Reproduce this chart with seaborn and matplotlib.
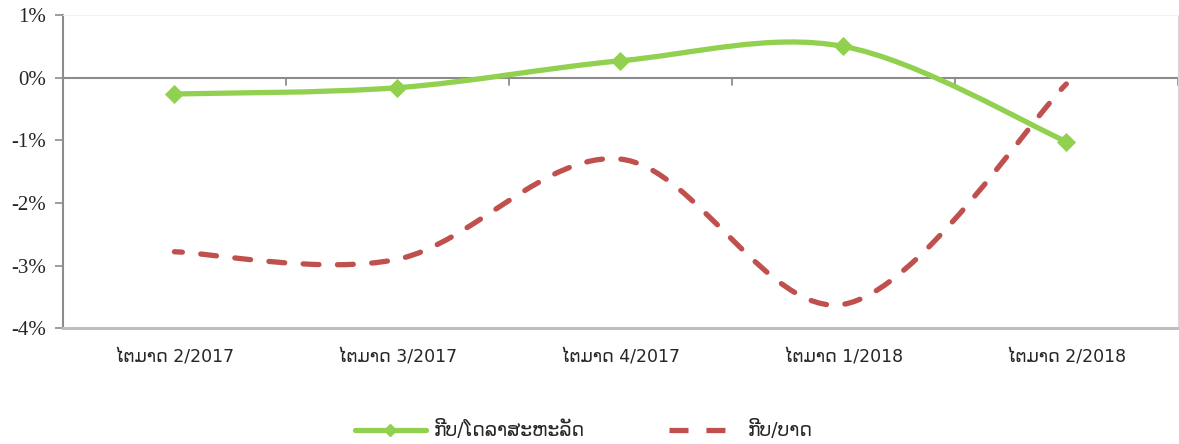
import numpy as np
import pandas as pd
import matplotlib
matplotlib.use('Agg')
import matplotlib.pyplot as plt
from matplotlib.path import Path
from matplotlib.patches import PathPatch
from matplotlib.lines import Line2D
from matplotlib.ticker import FuncFormatter
import seaborn as sns

# ─── Data ─────────────────────────────────────────────────────────────────────
QUARTERS = ['ໄຕມາດ 2/2017', 'ໄຕມາດ 3/2017', 'ໄຕມາດ 4/2017', 'ໄຕມາດ 1/2018', 'ໄຕມາດ 2/2018']
KIP_USD  = [-0.26, -0.16, 0.27, 0.50, -1.02]
KIP_THB  = [-2.78, -2.90, -1.30, -3.62, -0.10]
LABEL_USD = 'ກີບ/ໂດລາສະຫະລັດ'
LABEL_THB = 'ກີບ/ບາດ'

GREEN = '#92D050'
RED   = '#C0504D'
GREY  = '#8C8C8C'
DASH  = (1.5, (3.0, 3.5))

df = pd.DataFrame({'quarter': QUARTERS, 'usd': KIP_USD, 'thb': KIP_THB})
df['pos'] = np.arange(len(df))


def smooth_path(x, y):
    """Excel-style smoothed line: cubic Bezier through every point (Catmull-Rom)."""
    pts = np.column_stack([np.asarray(x, float), np.asarray(y, float)])
    verts = [pts[0]]
    codes = [Path.MOVETO]
    n = len(pts)
    for i in range(n - 1):
        p0 = pts[i - 1] if i > 0 else pts[i]
        p1, p2 = pts[i], pts[i + 1]
        p3 = pts[i + 2] if i + 2 < n else pts[i + 1]
        verts += [p1 + (p2 - p0) / 6, p2 - (p3 - p1) / 6, p2]
        codes += [Path.CURVE4] * 3
    return Path(verts, codes)


sns.set_style('white')
plt.rcParams['font.family'] = ['DejaVu Sans']

fig, ax = plt.subplots(figsize=(11.79, 4.44), dpi=100)
fig.subplots_adjust(left=0.0534, right=0.999, top=0.966, bottom=0.261)

# smoothed lines
ax.add_patch(PathPatch(smooth_path(df['pos'], df['usd']), facecolor='none',
                       edgecolor=GREEN, linewidth=3.8, capstyle='round', zorder=3))
ax.add_patch(PathPatch(smooth_path(df['pos'], df['thb']), facecolor='none',
                       edgecolor=RED, linewidth=3.8, linestyle=DASH,
                       capstyle='round', zorder=3))
sns.scatterplot(data=df, x='pos', y='usd', marker='D', s=95, color=GREEN,
                edgecolor=GREEN, linewidth=0, ax=ax, zorder=4, legend=False)

ax.set_xlim(-0.5, len(df) - 0.5)
ax.set_ylim(-4, 1)
ax.set_xlabel('')
ax.set_ylabel('')

# y axis
ax.set_yticks(np.arange(-4, 1.01, 1))
ax.yaxis.set_major_formatter(FuncFormatter(lambda v, _: f'{v:.0f}%'))
for lab in ax.get_yticklabels():
    lab.set_fontfamily('Liberation Serif')
ax.tick_params(axis='y', labelsize=15, length=6, width=1.2, color=GREY, pad=6,
               left=True, direction='out')

# category labels under the plot, tick marks on the zero line
ax.set_xticks(df['pos'])
ax.set_xticklabels(QUARTERS, fontsize=12.5)
ax.tick_params(axis='x', length=0, pad=15)
ax.axhline(0, color=GREY, linewidth=1.5, zorder=2)
for b in np.arange(-0.5, len(df), 1.0)[1:]:
    ax.plot([b, b], [0, -0.12], color=GREY, linewidth=1.3, zorder=2)

ax.spines['left'].set_color(GREY)
ax.spines['left'].set_linewidth(1.5)
ax.spines['right'].set_color('#D9D9D9')
ax.spines['top'].set_color('#F2F2F2')
ax.spines['bottom'].set_color('#BFBFBF')
ax.spines['bottom'].set_linewidth(2.2)

handles = [Line2D([0], [0], color=GREEN, linewidth=3.8, marker='D', markersize=6),
           Line2D([0], [0], color=RED, linewidth=3.8, linestyle=(0, (3.6, 3.4)))]
fig.legend(handles, [LABEL_USD, LABEL_THB], loc='lower center', ncol=2,
           bbox_to_anchor=(0.495, -0.03), frameon=False, fontsize=13.5,
           handlelength=3.8, handletextpad=0.4, columnspacing=4.5)

plt.savefig('out.png', dpi=100)
plt.close()
